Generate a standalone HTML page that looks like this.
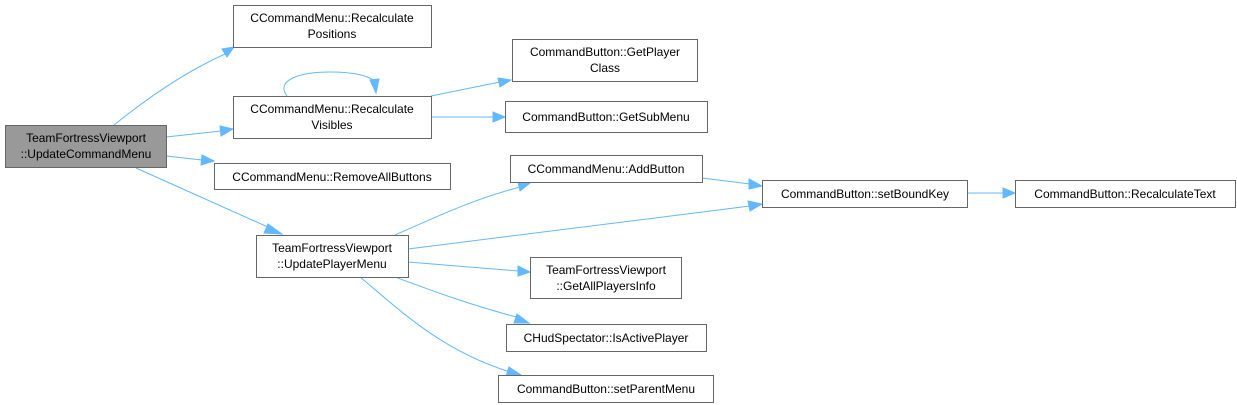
<!DOCTYPE html>
<html><head><meta charset="utf-8"><style>
html,body{margin:0;padding:0;background:#fff;}
svg{display:block;}
text{font-family:"Liberation Sans",Arial,sans-serif;font-size:12px;fill:#000;text-anchor:middle;}
.n{fill:#fff;stroke:#666;stroke-width:1;}
.e{fill:none;stroke:#63b8ff;stroke-width:1;}
.a{fill:#63b8ff;stroke:#63b8ff;}
</style></head><body>
<svg width="1237" height="405" viewBox="0 0 1237 405" xmlns="http://www.w3.org/2000/svg">
<!-- edges -->
<path class="e" d="M114,125 C145,100 185,72 225,54"/><polygon class="a" points="222,49 234,47 227,57"/>
<path class="e" d="M166,137 L221,131"/><polygon class="a" points="220,126 233,129 221,136"/>
<path class="e" d="M166,156 L202,160"/><polygon class="a" points="202,155 214,161 201,165"/>
<path class="e" d="M136,168 L270,228"/><polygon class="a" points="268,224 282,234 264,233"/>
<path class="e" d="M287,96 C275,80 300,72 330,72 C355,72 370,76 375,82"/><polygon class="a" points="370,80 376,93 379,79"/>
<path class="e" d="M431,96 L500,82"/><polygon class="a" points="498,78 511,80 500,87"/>
<path class="e" d="M431,117 L493,117"/><polygon class="a" points="493,112 505,117 493,122"/>
<path class="e" d="M395,235 C430,220 470,200 520,187"/><polygon class="a" points="518,182 530,183 520,191"/>
<path class="e" d="M408,249 L750,206"/><polygon class="a" points="748,201 762,204 750,211"/>
<path class="e" d="M408,262 L518,271"/><polygon class="a" points="518,266 530,272 518,276"/>
<path class="e" d="M395,277 C430,290 470,305 520,318"/><polygon class="a" points="517,314 529,323 514,323"/>
<path class="e" d="M360,277 C400,310 440,350 510,372"/><polygon class="a" points="509,367 521,375 506,376"/>
<path class="e" d="M702,178 L750,184"/><polygon class="a" points="749,179 762,186 749,189"/>
<path class="e" d="M967,193 L1003,193"/><polygon class="a" points="1003,188 1015,193 1003,198"/>
<!-- nodes -->
<rect x="5.5" y="125.5" width="161" height="42" style="fill:#999;stroke:#666"/>
<text x="86" y="142">TeamFortressViewport</text><text x="86" y="158">::UpdateCommandMenu</text>
<rect class="n" x="233.5" y="5.5" width="198" height="42"/>
<text x="332" y="22">CCommandMenu::Recalculate</text><text x="332" y="38">Positions</text>
<rect class="n" x="233.5" y="96.5" width="198" height="42"/>
<text x="332" y="113">CCommandMenu::Recalculate</text><text x="332" y="129">Visibles</text>
<rect class="n" x="214.5" y="163.5" width="236" height="26"/>
<text x="332" y="181">CCommandMenu::RemoveAllButtons</text>
<rect class="n" x="256.5" y="235.5" width="152" height="42"/>
<text x="332" y="252">TeamFortressViewport</text><text x="332" y="268">::UpdatePlayerMenu</text>
<rect class="n" x="512.5" y="39.5" width="185" height="42"/>
<text x="605" y="56">CommandButton::GetPlayer</text><text x="605" y="72">Class</text>
<rect class="n" x="505.5" y="101.5" width="202" height="31"/>
<text x="606" y="121">CommandButton::GetSubMenu</text>
<rect class="n" x="510.5" y="155.5" width="192" height="27"/>
<text x="606" y="173">CCommandMenu::AddButton</text>
<rect class="n" x="762.5" y="180.5" width="205" height="27"/>
<text x="865" y="198">CommandButton::setBoundKey</text>
<rect class="n" x="1015.5" y="180.5" width="220" height="27"/>
<text x="1125" y="198">CommandButton::RecalculateText</text>
<rect class="n" x="530.5" y="257.5" width="151" height="41"/>
<text x="606" y="274">TeamFortressViewport</text><text x="606" y="290">::GetAllPlayersInfo</text>
<rect class="n" x="506.5" y="324.5" width="200" height="27"/>
<text x="606" y="342">CHudSpectator::IsActivePlayer</text>
<rect class="n" x="498.5" y="375.5" width="215" height="27"/>
<text x="606" y="393">CommandButton::setParentMenu</text>
</svg>
</body></html>
